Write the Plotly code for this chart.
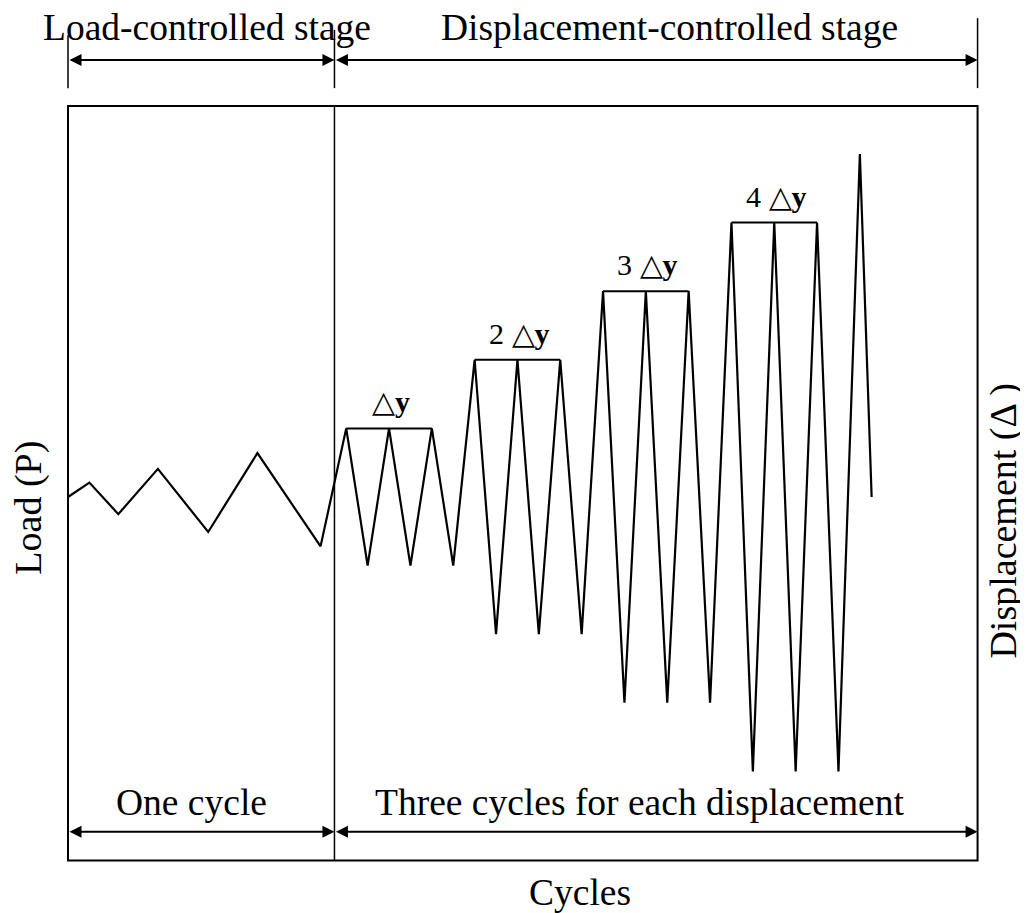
import plotly.graph_objects as go

# ---------------- data (time in half-cycle units, amplitude in Δy units) -------------
load_t = [0.0, 1.0, 2.35, 4.2, 6.55, 8.85, 11.8]
load_p = [0.0, 0.21, -0.25, 0.41, -0.51, 0.64, -0.72]

disp_t = [13, 14, 15, 16, 17, 18,
          19, 20, 21, 22, 23, 24,
          25, 26, 27, 28, 29, 30,
          31, 32, 33, 34, 35, 36,
          37, 37.55]
disp_d = [1, -1, 1, -1, 1, -1,
          2, -2, 2, -2, 2, -2,
          3, -3, 3, -3, 3, -3,
          4, -4, 4, -4, 4, -4,
          5, 0]

level_vals = [1, 2, 3, 4]
level_starts = [13, 19, 25, 31]
level_ends = [17, 23, 29, 35]
level_labels = ["△<b>y</b>", "2 △<b>y</b>", "3 △<b>y</b>", "4 △<b>y</b>"]

frame_x = [0.0, 42.5]
frame_y = [-5.3, 5.7]
stage_split = 12.45

stage_labels_top = ["Load-controlled stage", "Displacement-controlled stage"]
stage_labels_bottom = ["One cycle", "Three cycles for each displacement"]

FONT = "Liberation Serif"

fig = go.Figure()
fig.add_trace(go.Scatter(
    x=load_t + disp_t, y=load_p + disp_d, mode="lines",
    line=dict(color="black", width=2.2), hoverinfo="skip"))

shapes = []
# frame
shapes.append(dict(type="rect", xref="x", yref="y", x0=frame_x[0], x1=frame_x[1],
                   y0=frame_y[0], y1=frame_y[1], line=dict(color="black", width=2)))
# stage divider
shapes.append(dict(type="line", xref="x", yref="y", x0=stage_split, x1=stage_split,
                   y0=frame_y[0], y1=frame_y[1], line=dict(color="black", width=1.5)))
# extension lines at top
ext_x = [frame_x[0], stage_split, frame_x[1]]
ext_top = [6.73, 6.81, 6.98]
for xx, yt in zip(ext_x, ext_top):
    shapes.append(dict(type="line", xref="x", yref="y", x0=xx, x1=xx, y0=5.96, y1=yt,
                       line=dict(color="black", width=1.5)))
# level brackets
for lv, s, e in zip(level_vals, level_starts, level_ends):
    shapes.append(dict(type="line", xref="x", yref="y", x0=s, x1=e, y0=lv, y1=lv,
                       line=dict(color="black", width=2)))

annotations = []
# level labels
for lv, s, e, lab in zip(level_vals, level_starts, level_ends, level_labels):
    annotations.append(dict(x=(s + e) / 2 + 0.1, y=lv, xref="x", yref="y", text=lab,
                            showarrow=False, yanchor="bottom", yshift=8,
                            font=dict(family=FONT, size=30, color="black")))

# dimension lines with double arrows
dim_top_y = 6.37
dim_bot_y = -4.88
segments = [(frame_x[0], stage_split), (stage_split, frame_x[1])]
for yy in (dim_top_y, dim_bot_y):
    for a, b in segments:
        annotations.append(dict(x=b, y=yy, ax=a, ay=yy, xref="x", yref="y",
                                axref="x", ayref="y", text="", showarrow=True,
                                arrowhead=2, arrowside="end+start", arrowsize=1.2,
                                arrowwidth=2, arrowcolor="black", standoff=0,
                                startstandoff=0))

TXT = dict(family=FONT, size=37.5, color="black")
# stage texts
annotations.append(dict(x=6.5, y=6.85, xref="x", yref="y", text=stage_labels_top[0],
                        showarrow=False, font=TXT))
annotations.append(dict(x=28.1, y=6.85, xref="x", yref="y", text=stage_labels_top[1],
                        showarrow=False, font=TXT))
annotations.append(dict(x=5.75, y=-4.45, xref="x", yref="y", text=stage_labels_bottom[0],
                        showarrow=False, font=TXT))
annotations.append(dict(x=26.7, y=-4.45, xref="x", yref="y", text=stage_labels_bottom[1],
                        showarrow=False, font=TXT))
# axis titles
annotations.append(dict(x=23.9, y=-5.76, xref="x", yref="y", text="Cycles",
                        showarrow=False, font=TXT))
annotations.append(dict(x=-1.85, y=-0.15, xref="x", yref="y", text="Load (P)", textangle=-90,
                        showarrow=False, borderpad=0,
                        font=dict(family=FONT, size=38, color="black")))
annotations.append(dict(x=43.7, y=-0.34, xref="x", yref="y", text="Displacement (Δ )",
                        textangle=-90, showarrow=False, borderpad=0,
                        font=dict(family=FONT, size=38, color="black")))

# the page body adds an 8px offset; ranges are chosen so marks land where the reference has them
fig.update_layout(
    width=1028, height=913,
    margin=dict(l=0, r=0, t=0, b=0),
    paper_bgcolor="white", plot_bgcolor="white",
    showlegend=False,
    xaxis=dict(visible=False, range=[-2.804, 45.23], fixedrange=True),
    yaxis=dict(visible=False, range=[-6.181, 7.128], fixedrange=True),
    shapes=shapes, annotations=annotations,
)

fig.write_html("out.html")
